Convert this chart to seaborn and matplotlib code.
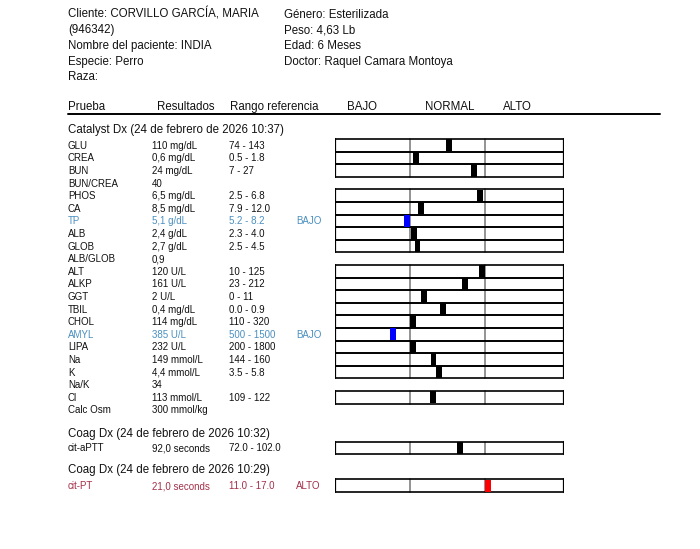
import numpy as np
import pandas as pd
import matplotlib
matplotlib.use("Agg")
import matplotlib.pyplot as plt
from matplotlib.markers import MarkerStyle
import seaborn as sns

# ---------------- data ----------------
info_left = ["Cliente: CORVILLO GARCÍA, MARIA", "(946342)", "Nombre del paciente: INDIA",
             "Especie: Perro", "Raza:"]
info_right = ["Género: Esterilizada", "Peso: 4,63 Lb", "Edad: 6 Meses",
              "Doctor: Raquel Camara Montoya"]
col_headers = ["Prueba", "Resultados", "Rango referencia", "BAJO", "NORMAL", "ALTO"]

section_titles = ["Catalyst Dx (24 de febrero de 2026 10:37)",
                  "Coag Dx (24 de febrero de 2026 10:32)",
                  "Coag Dx (24 de febrero de 2026 10:29)"]

cat_names = ["GLU", "CREA", "BUN", "BUN/CREA", "PHOS", "CA", "TP", "ALB", "GLOB", "ALB/GLOB",
             "ALT", "ALKP", "GGT", "TBIL", "CHOL", "AMYL", "LIPA", "Na", "K", "Na/K", "Cl",
             "Calc Osm"]
cat_results = ["110 mg/dL", "0,6 mg/dL", "24 mg/dL", "40", "6,5 mg/dL", "8,5 mg/dL", "5,1 g/dL",
               "2,4 g/dL", "2,7 g/dL", "0,9", "120 U/L", "161 U/L", "2 U/L", "0,4 mg/dL",
               "114 mg/dL", "385 U/L", "232 U/L", "149 mmol/L", "4,4 mmol/L", "34",
               "113 mmol/L", "300 mmol/kg"]
cat_values = [110, 0.6, 24, 40, 6.5, 8.5, 5.1, 2.4, 2.7, 0.9, 120, 161, 2, 0.4, 114, 385, 232,
              149, 4.4, 34, 113, 300]
cat_low = [74, 0.5, 7, None, 2.5, 7.9, 5.2, 2.3, 2.5, None, 10, 23, 0, 0.0, 110, 500, 200,
           144, 3.5, None, 109, None]
cat_high = [143, 1.8, 27, None, 6.8, 12.0, 8.2, 4.0, 4.5, None, 125, 212, 11, 0.9, 320, 1500,
            1800, 160, 5.8, None, 122, None]
cat_ranges = ["74 - 143", "0.5 - 1.8", "7 - 27", "", "2.5 - 6.8", "7.9 - 12.0", "5.2 - 8.2",
              "2.3 - 4.0", "2.5 - 4.5", "", "10 - 125", "23 - 212", "0 - 11", "0.0 - 0.9",
              "110 - 320", "500 - 1500", "200 - 1800", "144 - 160", "3.5 - 5.8", "",
              "109 - 122", ""]

coag_names = ["cit-aPTT", "cit-PT"]
coag_results = ["92,0 seconds", "21,0 seconds"]
coag_values = [92.0, 21.0]
coag_low = [72.0, 11.0]
coag_high = [102.0, 17.0]
coag_ranges = ["72.0 - 102.0", "11.0 - 17.0"]

# ---------------- styling / layout ----------------
sns.set_theme(style="white")
plt.rcParams["font.family"] = ["Liberation Sans", "DejaVu Sans"]

W, H = 700, 549
fig = plt.figure(figsize=(W / 100, H / 100), dpi=100)
ax = fig.add_axes([0, 0, 1, 1])
ax.set_xlim(0, W)
ax.set_ylim(H, 0)
ax.axis("off")

# gauge axes: 1 unit = 75 px, BAJO [0,1], NORMAL [1,2], ALTO [2, end]
G_LEFT, G_RIGHT, UNIT = 335, 564, 75.0
GX_MAX = (G_RIGHT - G_LEFT) / UNIT
gax = fig.add_axes([G_LEFT / W, 0, (G_RIGHT - G_LEFT) / W, 1])
gax.set_xlim(0, GX_MAX)
gax.set_ylim(H, 0)
gax.axis("off")
gax.patch.set_alpha(0)

BIG = 8.3
SMALL = 7.0
BLUE_TXT = "#4a8fc0"
RED_TXT = "#a3304a"
X_NAME, X_RES, X_RNG, X_FLAG = 68, 152, 229, 296


def txt(x, y, s, size, color="#111111"):
    # place text so that the cap-height centre sits on y
    cap = size / 0.72 * 0.716
    ax.text(x, y + cap / 2, s, fontsize=size, va="baseline", ha="left", color=color)


# header info
for i, t in enumerate(info_left):
    txt(68, 13.5 + 15.7 * i, t, BIG)
for i, t in enumerate(info_right):
    txt(284, 13.5 + 15.7 * i, t, BIG)

hdr_x = [68, 157, 230, 347, 425, 503]
for x, t in zip(hdr_x, col_headers):
    txt(x, 105.5, t, BIG)
ax.plot([68, 660], [114, 114], color="black", lw=1.4)

ROW_H = 12.6


def flag_of(v, lo, hi):
    if lo is None:
        return ""
    if v < lo:
        return "BAJO"
    if v > hi:
        return "ALTO"
    return ""


def gauge_pos(v, lo, hi, w):
    if v < lo:
        seg, frac = 0, v / lo if lo else 0.0
        top = 1.0
    elif v > hi:
        seg, frac = 2, (v - hi) / (9 * hi)
        top = GX_MAX
    else:
        seg, frac = 1, (v - lo) / (hi - lo)
        top = 2.0
    p = seg + frac * (1 if seg < 2 else GX_MAX - 2)
    return float(np.clip(p, seg + w / 2, top - w / 2))


rows = []  # (y, name, result, range, value, lo, hi)
y0 = 145.3
for i in range(len(cat_names)):
    rows.append((y0 + ROW_H * i, cat_names[i], cat_results[i], cat_ranges[i], cat_values[i],
                 cat_low[i], cat_high[i]))
coag_y = [447.8, 485.6]
for i in range(len(coag_names)):
    rows.append((coag_y[i], coag_names[i], coag_results[i], coag_ranges[i], coag_values[i],
                 coag_low[i], coag_high[i]))

txt(68, 129, section_titles[0], BIG)
txt(68, 432.5, section_titles[1], BIG)
txt(68, 468.5, section_titles[2], BIG)

MW = 6 / UNIT
marks = []
for (y, name, res, rng, v, lo, hi) in rows:
    fl = flag_of(v, lo, hi)
    col = BLUE_TXT if fl == "BAJO" else (RED_TXT if fl == "ALTO" else "#111111")
    for x, t in [(X_NAME, name), (X_RES, res), (X_RNG, rng), (X_FLAG, fl)]:
        if t:
            txt(x, y, t, SMALL, col)
    if lo is not None:
        top, bot = y - ROW_H / 2, y + ROW_H / 2
        gax.plot([1, 1], [top, bot], color="#8a8a8a", lw=1.3, zorder=1)
        gax.plot([2, 2], [top, bot], color="#8a8a8a", lw=1.3, zorder=1)
        gax.plot([0, GX_MAX], [top, top], color="black", lw=1.2, zorder=2, solid_capstyle="butt")
        gax.plot([0, GX_MAX], [bot, bot], color="black", lw=1.2, zorder=2, solid_capstyle="butt")
        gax.plot([0, 0], [top, bot], color="black", lw=1.6, zorder=2)
        gax.plot([GX_MAX, GX_MAX], [top, bot], color="black", lw=1.6, zorder=2)
        marks.append({"pos": gauge_pos(v, lo, hi, MW), "y": y,
                      "flag": fl if fl else "NORMAL"})

df = pd.DataFrame(marks)
rect = MarkerStyle([(-0.24, -0.5), (0.24, -0.5), (0.24, 0.5), (-0.24, 0.5), (-0.24, -0.5)])
sns.scatterplot(data=df, x="pos", y="y", hue="flag",
                palette={"NORMAL": "black", "BAJO": "#0000ff", "ALTO": "#ff0000"},
                marker=rect, s=(12.2 * 0.72) ** 2, linewidth=0, edgecolor="none",
                legend=False, ax=gax, zorder=5)
gax.set_xlim(0, GX_MAX)
gax.set_ylim(H, 0)
gax.axis("off")

fig.savefig("out.png", dpi=100, facecolor="white")
